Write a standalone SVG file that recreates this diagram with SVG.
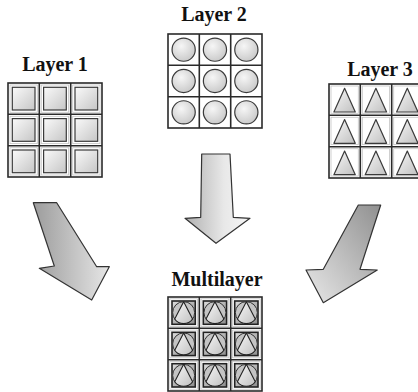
<svg xmlns="http://www.w3.org/2000/svg" xmlns:xlink="http://www.w3.org/1999/xlink" width="418" height="392" viewBox="0 0 418 392">
  <style>
    .label { font-family: "Liberation Serif", "Times New Roman", serif; font-weight: bold; font-size: 20px; fill: #111; text-anchor: middle; }
    .grid { fill: #fff; stroke: #2a2a2a; stroke-width: 1.6; }
    .gline { stroke: #2a2a2a; stroke-width: 1.6; }
    .cellrim { fill: none; stroke: #c4c4c4; stroke-width: 0.8; }
    .shape { stroke: #3a3a3a; stroke-width: 1.2; }
    .arrow { stroke: #333; stroke-width: 1.2; stroke-linejoin: round; }
  </style>
  <defs>
    <linearGradient id="gSquare" x1="0" y1="0" x2="1" y2="1">
      <stop offset="0" stop-color="#fafafa"/>
      <stop offset="1" stop-color="#c6c6c6"/>
    </linearGradient>
    <radialGradient id="gCircle" cx="0.4" cy="0.35" r="0.7">
      <stop offset="0" stop-color="#f6f6f6"/>
      <stop offset="1" stop-color="#c8c8c8"/>
    </radialGradient>
    <linearGradient id="gTri" x1="0" y1="0" x2="1" y2="1">
      <stop offset="0" stop-color="#f8f8f8"/>
      <stop offset="1" stop-color="#c0c0c0"/>
    </linearGradient>
    <linearGradient id="gMulti" x1="0" y1="0" x2="1" y2="1">
      <stop offset="0" stop-color="#dcdcdc"/>
      <stop offset="1" stop-color="#8c8c8c"/>
    </linearGradient>
    <linearGradient id="gArrowL" x1="0" y1="0" x2="1" y2="0">
      <stop offset="0" stop-color="#9c9c9c"/>
      <stop offset="1" stop-color="#e6e6e6"/>
    </linearGradient>
    <linearGradient id="gArrowM" x1="0" y1="0" x2="1" y2="0">
      <stop offset="0" stop-color="#b0b0b0"/>
      <stop offset="0.6" stop-color="#e8e8e8"/>
      <stop offset="1" stop-color="#f6f6f6"/>
    </linearGradient>
    <linearGradient id="gArrowR" x1="0" y1="1" x2="1" y2="0">
      <stop offset="0" stop-color="#e8e8e8"/>
      <stop offset="1" stop-color="#909090"/>
    </linearGradient>

    <!-- 3x3 frame, 94 px square -->
    <g id="frame">
      <rect class="grid" x="0" y="0" width="94" height="94"/>
      <line class="gline" x1="31.3" y1="0" x2="31.3" y2="94"/>
      <line class="gline" x1="62.7" y1="0" x2="62.7" y2="94"/>
      <line class="gline" x1="0" y1="31.3" x2="94" y2="31.3"/>
      <line class="gline" x1="0" y1="62.7" x2="94" y2="62.7"/>
    </g>

    <!-- cell contents, drawn in a 31.3 px cell -->
    <g id="cSquare">
      <rect class="cellrim" x="2" y="2" width="27.3" height="27.3"/>
      <rect class="shape" x="4.3" y="4.3" width="22.7" height="22.7" fill="url(#gSquare)"/>
    </g>
    <g id="cCircle">
      <circle class="shape" cx="15.65" cy="15.65" r="11.6" fill="url(#gCircle)"/>
    </g>
    <g id="cTri">
      <rect class="cellrim" x="2" y="2" width="27.3" height="27.3"/>
      <polygon class="shape" points="15.6,4.3 26.3,28 4.9,28" fill="url(#gTri)" stroke-linejoin="round"/>
    </g>
    <g id="cMulti">
      <rect class="cellrim" x="1.8" y="1.8" width="27.7" height="27.7"/>
      <rect x="4" y="4" width="23.3" height="23.3" fill="url(#gMulti)" stroke="#222" stroke-width="1.6"/>
      <circle cx="15.65" cy="15.65" r="11" fill="#c4c4c4" stroke="#333" stroke-width="1"/>
      <path d="M15.65,4.65 L24.6,22 A11,11 0 0 1 6.7,22 Z" fill="url(#gTri)" stroke="#222" stroke-width="1.1" stroke-linejoin="round"/>
    </g>

    <g id="fillSquare">
      <use xlink:href="#cSquare" x="0" y="0"/><use xlink:href="#cSquare" x="31.3" y="0"/><use xlink:href="#cSquare" x="62.7" y="0"/>
      <use xlink:href="#cSquare" x="0" y="31.3"/><use xlink:href="#cSquare" x="31.3" y="31.3"/><use xlink:href="#cSquare" x="62.7" y="31.3"/>
      <use xlink:href="#cSquare" x="0" y="62.7"/><use xlink:href="#cSquare" x="31.3" y="62.7"/><use xlink:href="#cSquare" x="62.7" y="62.7"/>
    </g>
    <g id="fillCircle">
      <use xlink:href="#cCircle" x="0" y="0"/><use xlink:href="#cCircle" x="31.3" y="0"/><use xlink:href="#cCircle" x="62.7" y="0"/>
      <use xlink:href="#cCircle" x="0" y="31.3"/><use xlink:href="#cCircle" x="31.3" y="31.3"/><use xlink:href="#cCircle" x="62.7" y="31.3"/>
      <use xlink:href="#cCircle" x="0" y="62.7"/><use xlink:href="#cCircle" x="31.3" y="62.7"/><use xlink:href="#cCircle" x="62.7" y="62.7"/>
    </g>
    <g id="fillTri">
      <use xlink:href="#cTri" x="0" y="0"/><use xlink:href="#cTri" x="31.3" y="0"/><use xlink:href="#cTri" x="62.7" y="0"/>
      <use xlink:href="#cTri" x="0" y="31.3"/><use xlink:href="#cTri" x="31.3" y="31.3"/><use xlink:href="#cTri" x="62.7" y="31.3"/>
      <use xlink:href="#cTri" x="0" y="62.7"/><use xlink:href="#cTri" x="31.3" y="62.7"/><use xlink:href="#cTri" x="62.7" y="62.7"/>
    </g>
    <g id="fillMulti">
      <use xlink:href="#cMulti" x="0" y="0"/><use xlink:href="#cMulti" x="31.3" y="0"/><use xlink:href="#cMulti" x="62.7" y="0"/>
      <use xlink:href="#cMulti" x="0" y="31.3"/><use xlink:href="#cMulti" x="31.3" y="31.3"/><use xlink:href="#cMulti" x="62.7" y="31.3"/>
      <use xlink:href="#cMulti" x="0" y="62.7"/><use xlink:href="#cMulti" x="31.3" y="62.7"/><use xlink:href="#cMulti" x="62.7" y="62.7"/>
    </g>
  </defs>

  <rect width="418" height="392" fill="#fff"/>

  <!-- block arrows -->
  <g id="connectors">
    <path class="arrow" fill="url(#gArrowL)" d="M33.3,202.7 L56.7,202.7 L96.7,266.7 L109.3,266.7 L91.7,300 L39.3,268.3 L54.3,266 Z"/>
    <path class="arrow" fill="url(#gArrowM)" d="M201.7,154 L230,154 L233.3,217.3 L250,218.3 L216,243.3 L185,218.3 L200.7,217.3 Z"/>
    <path class="arrow" fill="url(#gArrowR)" d="M358.3,205 L380.7,205 L360,269.3 L377.3,270 L323.3,302.7 L306,270 L323.3,269.3 Z"/>
  </g>

  <g id="layer1">
    <text class="label" x="55" y="71">Layer 1</text>
    <g transform="translate(8,83)">
      <use xlink:href="#frame"/>
      <use xlink:href="#fillSquare"/>
    </g>
  </g>

  <g id="layer2">
    <text class="label" x="214" y="21">Layer 2</text>
    <g transform="translate(168,34)">
      <use xlink:href="#frame"/>
      <use xlink:href="#fillCircle"/>
    </g>
  </g>

  <g id="layer3">
    <text class="label" x="380" y="76">Layer 3</text>
    <g transform="translate(329,84)">
      <use xlink:href="#frame"/>
      <use xlink:href="#fillTri"/>
    </g>
  </g>

  <g id="multilayer">
    <text class="label" x="217" y="286">Multilayer</text>
    <g transform="translate(168,297)">
      <use xlink:href="#frame"/>
      <use xlink:href="#fillMulti"/>
    </g>
  </g>
</svg>
